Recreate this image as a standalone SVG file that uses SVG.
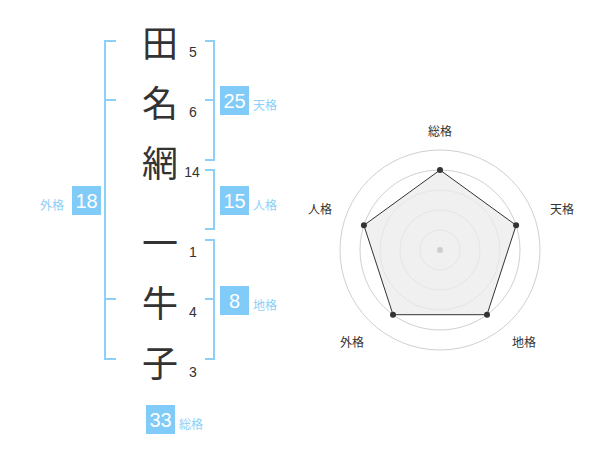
<svg xmlns="http://www.w3.org/2000/svg" width="600" height="470" viewBox="0 0 600 470">
<style>
.kanji{font-family:"Noto Sans CJK JP","Noto Sans CJK SC",sans-serif;font-size:36px;fill:#333;text-anchor:middle;dominant-baseline:central}
.num{font-family:"Liberation Sans",Arial,sans-serif;font-size:14px;fill:#333;text-anchor:middle}
.br{fill:none;stroke:#8ccff7;stroke-width:2}
.box{fill:#80cbf7}
.bnum{font-family:"Liberation Sans",Arial,sans-serif;font-size:20px;fill:#fff;text-anchor:middle;dominant-baseline:central}
.lbl{font-family:"Noto Sans CJK JP","Noto Sans CJK SC",sans-serif;font-size:12px;fill:#8ccff7;dominant-baseline:central}
.ring{fill:none;stroke:#d0d0d0;stroke-width:1}
.axl{font-family:"Noto Sans CJK JP","Noto Sans CJK SC",sans-serif;font-size:12px;fill:#333;text-anchor:middle;dominant-baseline:central}
.dot{fill:#333}
</style>
<g id="name">
<text class="kanji" x="160" y="41">田</text>
<text class="kanji" x="160" y="101">名</text>
<text class="kanji" x="160" y="161">網</text>
<text class="kanji" x="160" y="241">一</text>
<text class="kanji" x="160" y="301">牛</text>
<text class="kanji" x="160" y="361">子</text>
<text class="num" x="193" y="57">5</text>
<text class="num" x="193" y="117">6</text>
<text class="num" x="192" y="177">14</text>
<text class="num" x="193" y="257">1</text>
<text class="num" x="193" y="317">4</text>
<text class="num" x="193" y="377">3</text>
</g>
<g id="connectors">
<path class="br" d="M116,41 H105 V359 H116 M105,100 H116 M105,299 H116"/>
<path class="br" d="M205,41 H214 V160 H205 M205,100 H214"/>
<path class="br" d="M205,170 H214 V229 H205"/>
<path class="br" d="M205,240 H214 V359 H205 M205,299 H214"/>
</g>
<g id="tenkaku">
<rect class="box" x="220" y="86" width="29" height="29"/>
<text class="bnum" x="234.5" y="101">25</text>
<text class="lbl" x="253" y="104">天格</text>
</g>
<g id="jinkaku">
<rect class="box" x="220" y="186" width="29" height="29"/>
<text class="bnum" x="234.5" y="201">15</text>
<text class="lbl" x="253" y="204">人格</text>
</g>
<g id="gaikaku">
<rect class="box" x="72" y="186" width="29" height="29"/>
<text class="bnum" x="86.5" y="201">18</text>
<text class="lbl" x="40" y="204">外格</text>
</g>
<g id="chikaku">
<rect class="box" x="220" y="286" width="29" height="29"/>
<text class="bnum" x="234.5" y="301">8</text>
<text class="lbl" x="253" y="304">地格</text>
</g>
<g id="soukaku">
<rect class="box" x="146" y="405" width="29" height="29"/>
<text class="bnum" x="160.5" y="420">33</text>
<text class="lbl" x="179" y="423">総格</text>
</g>
<g id="radar">
<circle class="ring" cx="440" cy="250" r="20"/>
<circle class="ring" cx="440" cy="250" r="40"/>
<circle class="ring" cx="440" cy="250" r="60"/>
<circle class="ring" cx="440" cy="250" r="80"/>
<circle class="ring" cx="440" cy="250" r="100"/>
<polygon points="440,170 516.1,225.3 487,314.7 393,314.7 363.9,225.3" fill="#ebebeb" fill-opacity="0.75" stroke="#333" stroke-width="1"/>
<circle cx="440" cy="250" r="3" fill="#cccccc"/>
<circle class="dot" cx="440" cy="170" r="3"/>
<circle class="dot" cx="516.1" cy="225.3" r="3"/>
<circle class="dot" cx="487" cy="314.7" r="3"/>
<circle class="dot" cx="393" cy="314.7" r="3"/>
<circle class="dot" cx="363.9" cy="225.3" r="3"/>
<text class="axl" x="440" y="130">総格</text>
<text class="axl" x="562" y="208">天格</text>
<text class="axl" x="320" y="208">人格</text>
<text class="axl" x="524" y="341">地格</text>
<text class="axl" x="352" y="341">外格</text>
</g>
</svg>
